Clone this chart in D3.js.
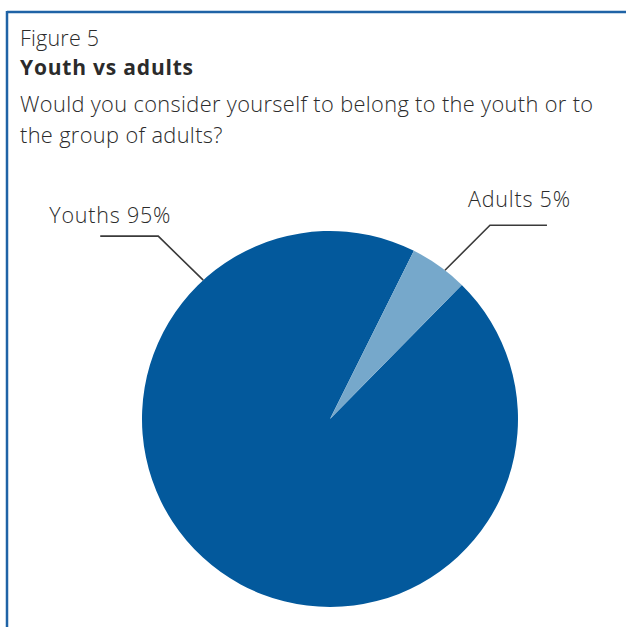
<!DOCTYPE html>
<html>
<head>
<meta charset="utf-8">
<script src="https://cdn.jsdelivr.net/npm/d3@7"></script>
<style>
  html, body { margin: 0; padding: 0; background: #fff; }
  svg { display: block; }
  text { font-family: "Open Sans", "Noto Sans", sans-serif; fill: #2b2b2b; }
</style>
</head>
<body>
<svg id="chart" width="626" height="627"></svg>
<script>
// Survey answers (share of respondents, %)
const categories = ["Youths", "Adults"];
const shares = [95, 5];
const sliceColors = ["#03599c", "#76a8cb"];

const figureLabel = "Figure 5";
const title = "Youth vs adults";
const questionLines = [
  "Would you consider yourself to belong to the youth or to",
  "the group of adults?"
];

const W = 626, H = 627;
const svg = d3.select("#chart");

// Frame: blue rule along the top and the left edge
const frameColor = "#1f63a6";
svg.append("line").attr("x1", 7).attr("y1", 12).attr("x2", W).attr("y2", 12)
  .attr("stroke", frameColor).attr("stroke-width", 2.5);
svg.append("line").attr("x1", 7).attr("y1", 11).attr("x2", 7).attr("y2", H)
  .attr("stroke", frameColor).attr("stroke-width", 2.5);

// Heading block
svg.append("text").attr("x", 20).attr("y", 46)
  .attr("font-size", 21.5).attr("font-weight", 300).attr("letter-spacing", 0.2)
  .text(figureLabel);
svg.append("text").attr("x", 20).attr("y", 75)
  .attr("font-size", 21).attr("font-weight", 700).attr("fill", "#1a1a1a")
  .attr("letter-spacing", 0.8).text(title);
questionLines.forEach((line, i) => {
  svg.append("text").attr("x", 20).attr("y", 112 + i * 31)
    .attr("font-size", 21.8).attr("font-weight", 300).attr("letter-spacing", 0.35)
    .text(line);
});

// Pie
const cx = 330, cy = 419, radius = 188;
const data = categories.map((c, i) => ({ name: c, value: shares[i], color: sliceColors[i] }));
const deg = Math.PI / 180;
const start = 44.5 * deg;
const pie = d3.pie().value(d => d.value).sort(null)
  .startAngle(start).endAngle(start + 2 * Math.PI);
const arcs = pie(data);
const arc = d3.arc().innerRadius(0).outerRadius(radius);

const g = svg.append("g").attr("transform", `translate(${cx},${cy})`);
g.selectAll("path").data(arcs).join("path")
  .attr("d", arc).attr("fill", d => d.data.color);

// Point on the rim at a given angle (clockwise from 12 o'clock)
const rim = a => [Math.sin(a) * radius, -Math.cos(a) * radius];

// Leader lines + labels
const adult = arcs[1];
const youthAnchor = rim(-42.4 * deg);
const adultAnchor = rim((adult.startAngle + adult.endAngle) / 2 - 2 * Math.PI + 2.2 * deg);

const leader = d3.line();
// Youths: rim -> elbow up-left -> horizontal to the left
const yElbow = [youthAnchor[0] - 45, youthAnchor[1] - 44];
g.append("path")
  .attr("d", leader([youthAnchor, yElbow, [yElbow[0] - 58, yElbow[1]]]))
  .attr("fill", "none").attr("stroke", "#3a3a3a").attr("stroke-width", 1.6);
g.append("text").attr("x", yElbow[0] - 109).attr("y", yElbow[1] - 13)
  .attr("font-size", 21.5).attr("font-weight", 300).attr("fill", "#444")
  .attr("letter-spacing", 0.8)
  .text(`${categories[0]} ${shares[0]}%`);

// Adults: rim -> elbow up-right -> horizontal to the right
const aElbow = [adultAnchor[0] + 45, adultAnchor[1] - 45];
g.append("path")
  .attr("d", leader([adultAnchor, aElbow, [aElbow[0] + 57, aElbow[1]]]))
  .attr("fill", "none").attr("stroke", "#3a3a3a").attr("stroke-width", 1.6);
g.append("text").attr("x", aElbow[0] - 22).attr("y", aElbow[1] - 18)
  .attr("font-size", 21.5).attr("font-weight", 300).attr("fill", "#444")
  .attr("letter-spacing", 0.8)
  .text(`${categories[1]} ${shares[1]}%`);
</script>
</body>
</html>
